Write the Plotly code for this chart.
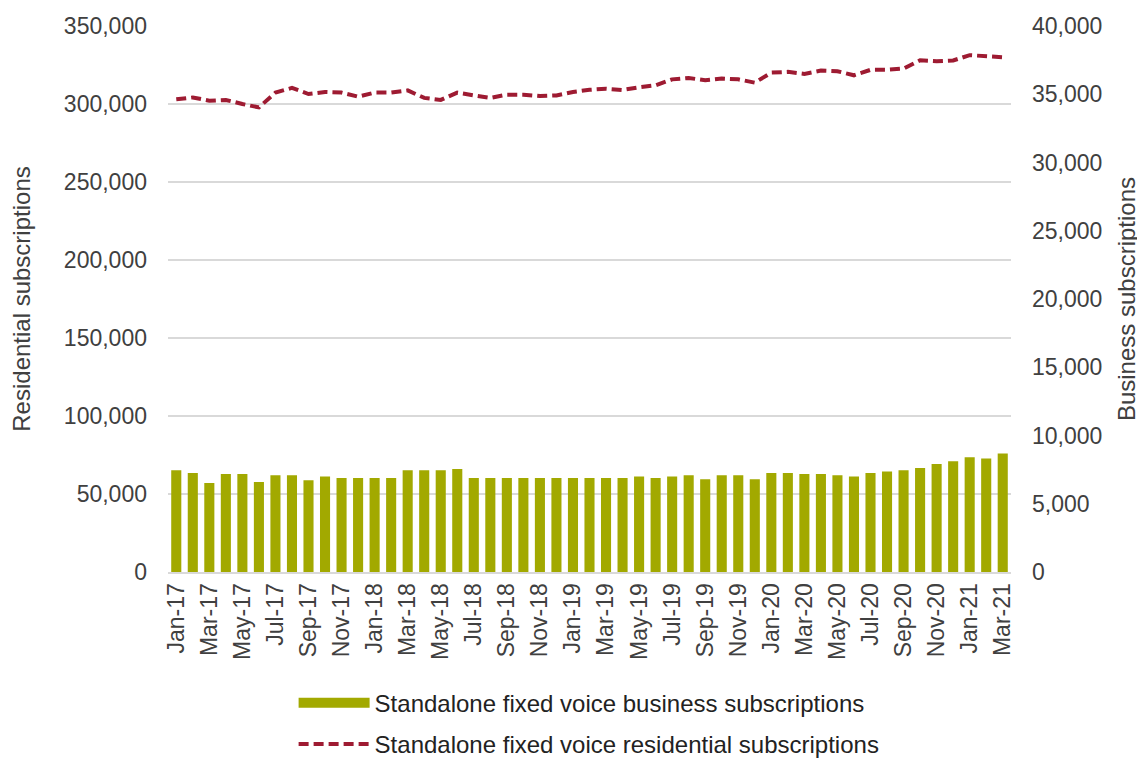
import plotly.graph_objects as go

months = [
    "Jan-17", "Feb-17", "Mar-17", "Apr-17", "May-17", "Jun-17", "Jul-17", "Aug-17", "Sep-17", "Oct-17", "Nov-17", "Dec-17",
    "Jan-18", "Feb-18", "Mar-18", "Apr-18", "May-18", "Jun-18", "Jul-18", "Aug-18", "Sep-18", "Oct-18", "Nov-18", "Dec-18",
    "Jan-19", "Feb-19", "Mar-19", "Apr-19", "May-19", "Jun-19", "Jul-19", "Aug-19", "Sep-19", "Oct-19", "Nov-19", "Dec-19",
    "Jan-20", "Feb-20", "Mar-20", "Apr-20", "May-20", "Jun-20", "Jul-20", "Aug-20", "Sep-20", "Oct-20", "Nov-20", "Dec-20",
    "Jan-21", "Feb-21", "Mar-21",
]

business = [
    7450, 7260, 6525, 7185, 7185, 6600, 7090, 7090, 6720, 6990, 6890, 6890,
    6890, 6890, 7455, 7455, 7455, 7550, 6890, 6890, 6890, 6890, 6890, 6890,
    6890, 6890, 6890, 6890, 6990, 6890, 6990, 7090, 6795, 7090, 7090, 6795,
    7260, 7260, 7185, 7185, 7090, 6990, 7260, 7360, 7455, 7625, 7920, 8115,
    8410, 8310, 8680,
]

residential = [
    303000, 304200, 302100, 302600, 300000, 297800, 307300, 310300, 306400, 307700, 307300, 304700,
    307300, 307300, 308700, 303900, 302600, 307300, 305500, 303900, 306000, 306000, 305100, 305500,
    307700, 309100, 309800, 309000, 310700, 312000, 315800, 316700, 315200, 316300, 315800, 313700,
    320100, 320600, 319300, 321400, 321000, 318400, 321900, 321900, 322700, 328000, 327400, 327900,
    331300, 330900, 330000,
]

tick_labels = months[::2]

left_ticks = [0, 50000, 100000, 150000, 200000, 250000, 300000, 350000]
right_ticks = [0, 5000, 10000, 15000, 20000, 25000, 30000, 35000, 40000]

FONT = "Liberation Sans, Arial, sans-serif"
TXT = "#404040"
BAR_COLOR = "#A2A900"
LINE_COLOR = "#9E1B32"

fig = go.Figure()
fig.add_trace(go.Bar(
    x=months, y=business, yaxis="y2",
    name="Standalone fixed voice business subscriptions",
    marker=dict(color=BAR_COLOR, line=dict(width=0)),
    showlegend=False,
))
# legend entry for the bars, drawn as a wide block like the original
fig.add_trace(go.Scatter(
    x=[None], y=[None], yaxis="y2", mode="lines",
    name="Standalone fixed voice business subscriptions",
    line=dict(color=BAR_COLOR, width=16),
    legendgroup="a",
))
fig.add_trace(go.Scatter(
    x=months, y=residential, yaxis="y", mode="lines",
    name="Standalone fixed voice residential subscriptions",
    line=dict(color=LINE_COLOR, width=4, dash="10px,5px"),
    legendgroup="b",
))

fig.update_layout(
    width=1137, height=750,
    margin=dict(l=160, r=134, t=18, b=186),
    paper_bgcolor="white", plot_bgcolor="white",
    font=dict(family=FONT, size=23, color=TXT),
    bargap=0.39,
    showlegend=True,
    legend=dict(
        orientation="v", x=0.149, xanchor="left",
        yref="container", y=0.103, yanchor="top",
        font=dict(size=24, color="#222222"), traceorder="grouped",
        bgcolor="rgba(0,0,0,0)", tracegroupgap=7, itemwidth=71,
    ),
    xaxis=dict(
        type="category", automargin=False,
        tickmode="array", tickvals=tick_labels, ticktext=tick_labels,
        tickangle=-90, showgrid=False,
        showline=True, linecolor="#d9d9d9", linewidth=2,
        ticks="", tickfont=dict(size=23, color=TXT),
    ),
    yaxis=dict(
        range=[0, 350000], tickvals=left_ticks, tickformat=",d",
        automargin=False,
        showgrid=True, gridcolor="#d9d9d9", gridwidth=2,
        zeroline=False, showline=False, ticks="",
        ticklabelstandoff=20,
        title=dict(text="Residential subscriptions", font=dict(size=24, color=TXT), standoff=26),
        tickfont=dict(size=23, color=TXT),
    ),
    yaxis2=dict(
        range=[0, 40000], tickvals=right_ticks, tickformat=",d",
        automargin=False,
        overlaying="y", side="right", showgrid=False, zeroline=False,
        showline=False, ticks="", ticklabelstandoff=20,
        title=dict(text="Business subscriptions", font=dict(size=24, color=TXT), standoff=16),
        tickfont=dict(size=23, color=TXT),
    ),
)

fig.write_html("out.html")
